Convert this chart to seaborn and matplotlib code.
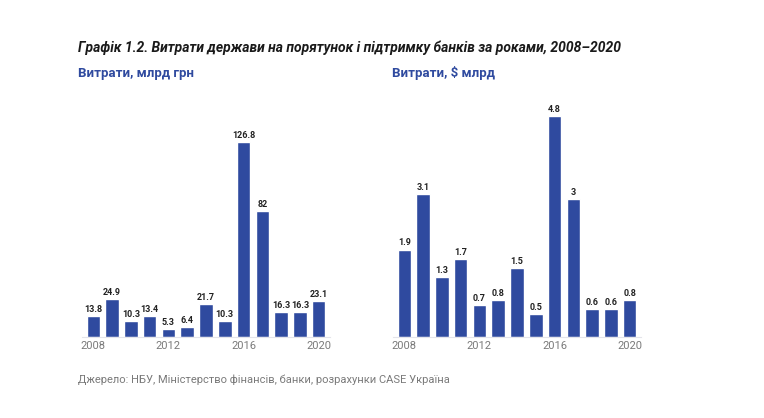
import pandas as pd
import matplotlib.pyplot as plt
import seaborn as sns

# data
years = list(range(2008, 2021))
uah_bn = [13.8, 24.9, 10.3, 13.4, 5.3, 6.4, 21.7, 10.3, 126.8, 82, 16.3, 16.3, 23.1]
usd_bn = [1.9, 3.1, 1.3, 1.7, 0.7, 0.8, 1.5, 0.5, 4.8, 3, 0.6, 0.6, 0.8]
uah_labels = ["13.8", "24.9", "10.3", "13.4", "5.3", "6.4", "21.7", "10.3", "126.8", "82", "16.3", "16.3", "23.1"]
usd_labels = ["1.9", "3.1", "1.3", "1.7", "0.7", "0.8", "1.5", "0.5", "4.8", "3", "0.6", "0.6", "0.8"]
tick_years = [2008, 2012, 2016, 2020]

title = "Графік 1.2. Витрати держави на порятунок і підтримку банків за роками, 2008–2020"
left_sub = "Витрати, млрд грн"
right_sub = "Витрати, $ млрд"
source = "Джерело: НБУ, Міністерство фінансів, банки, розрахунки CASE Україна"

sns.set_theme(style="white")
plt.rcParams['font.family'] = ['Roboto', 'DejaVu Sans']

BLUE = "#2f4a9f"
GREY = "#7a7a7a"

df = pd.DataFrame({"year": years, "uah": uah_bn, "usd": usd_bn})

fig = plt.figure(figsize=(7.64, 4.18), dpi=100)
W, H = 764, 418
ax1 = fig.add_axes([82 / W, 1 - 337 / H, 248 / W, 237 / H])
ax2 = fig.add_axes([393 / W, 1 - 337 / H, 248 / W, 237 / H])

for ax, col, labels, top in [(ax1, "uah", uah_labels, 154), (ax2, "usd", usd_labels, 5.15)]:
    sns.barplot(data=df, x="year", y=col, color=BLUE, width=0.72, saturation=1, ax=ax)
    ax.bar_label(ax.containers[0], labels=labels, padding=1.5, fontsize=6.5,
                 fontweight="bold", color="#222222")
    ax.set_ylim(0, top)
    ax.set_xlim(-0.6, len(years) - 0.4)
    ax.set_xticks([years.index(y) for y in tick_years])
    ax.set_xticklabels([str(y) for y in tick_years])
    ax.tick_params(axis="x", length=0, labelsize=8, labelcolor=GREY, pad=3)
    ax.set_yticks([])
    ax.set_xlabel("")
    ax.set_ylabel("")
    sns.despine(ax=ax, left=True)
    ax.spines["bottom"].set_color("#e4e4ea")
    ax.spines["bottom"].set_linewidth(0.8)

fig.text(78 / W, 1 - 48 / H, title, fontsize=10, fontweight="bold", fontstyle="italic",
         color="#1a1a1a", va="center")
fig.text(78 / W, 1 - 73 / H, left_sub, fontsize=9.5, fontweight="bold", color=BLUE, va="center")
fig.text(392 / W, 1 - 73 / H, right_sub, fontsize=9.5, fontweight="bold", color=BLUE, va="center")
fig.text(78 / W, 1 - 380 / H, source, fontsize=8, color=GREY, va="center")

fig.savefig("out.png", dpi=100, facecolor="white")
